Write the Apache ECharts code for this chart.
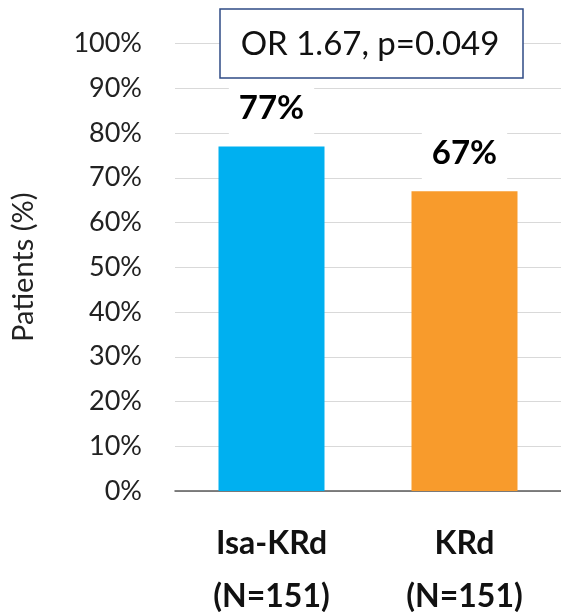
<!DOCTYPE html>
<html>
<head>
<meta charset="utf-8">
<script src="https://cdn.jsdelivr.net/npm/echarts@6/dist/echarts.min.js"></script>
<style>
  html, body { margin: 0; padding: 0; background: #fff; }
  #chart { width: 561px; height: 612px; }
</style>
</head>
<body>
<div id="chart"></div>
<script>
// Response rates by treatment arm
var categories = ['Isa-KRd\n(N=151)', 'KRd\n(N=151)'];
var responseRates = [77, 67];
var barColors = ['#00B0F0', '#F89B2C'];
var annotationText = 'OR 1.67, p=0.049';
var yAxisName = 'Patients (%)';

var FONT = 'Lato, "Open Sans", "Liberation Sans", sans-serif';

var chart = echarts.init(document.getElementById('chart'), null, { renderer: 'canvas' });

chart.setOption({
  animation: false,
  backgroundColor: '#ffffff',
  grid: {
    left: 175,
    right: 0,
    top: 43.5,
    bottom: 121,
    containLabel: false,
    outerBoundsMode: 'none'
  },
  xAxis: {
    type: 'category',
    data: categories,
    axisLine: { show: true, lineStyle: { color: '#595959', width: 1.5 } },
    axisTick: { show: false },
    axisLabel: {
      margin: 26,
      color: '#111',
      fontFamily: FONT,
      fontWeight: 'bold',
      fontSize: 32,
      lineHeight: 53,
      interval: 0
    }
  },
  yAxis: {
    type: 'value',
    min: 0,
    max: 100,
    interval: 10,
    name: yAxisName,
    nameLocation: 'middle',
    nameGap: 137,
    nameRotate: 90,
    nameTextStyle: {
      color: '#222',
      fontFamily: FONT,
      fontSize: 29
    },
    axisLine: { show: false },
    axisTick: { show: false },
    axisLabel: {
      margin: 33,
      color: '#222',
      fontFamily: FONT,
      fontSize: 27,
      formatter: '{value}%'
    },
    splitLine: { show: true, lineStyle: { color: '#d9d9d9', width: 1 } }
  },
  series: [{
    type: 'bar',
    barWidth: 106,
    data: responseRates.map(function (v, i) {
      return { value: v, itemStyle: { color: barColors[i] } };
    }),
    label: {
      show: true,
      position: 'top',
      distance: 10,
      formatter: '{c}%',
      color: '#000',
      fontFamily: FONT,
      fontWeight: 'bold',
      fontSize: 33,
      lineHeight: 32,
      backgroundColor: '#ffffff',
      padding: [12, 10]
    }
  }],
  graphic: [{
    type: 'rect',
    z: 100,
    shape: { x: 220, y: 9, width: 303, height: 69 },
    style: { fill: '#ffffff', stroke: '#2F4B85', lineWidth: 1.5 }
  }, {
    type: 'text',
    z: 101,
    x: 370,
    y: 44,
    style: {
      text: annotationText,
      fill: '#111',
      fontFamily: FONT,
      fontSize: 33,
      align: 'center',
      verticalAlign: 'middle'
    }
  }]
});
</script>
</body>
</html>
